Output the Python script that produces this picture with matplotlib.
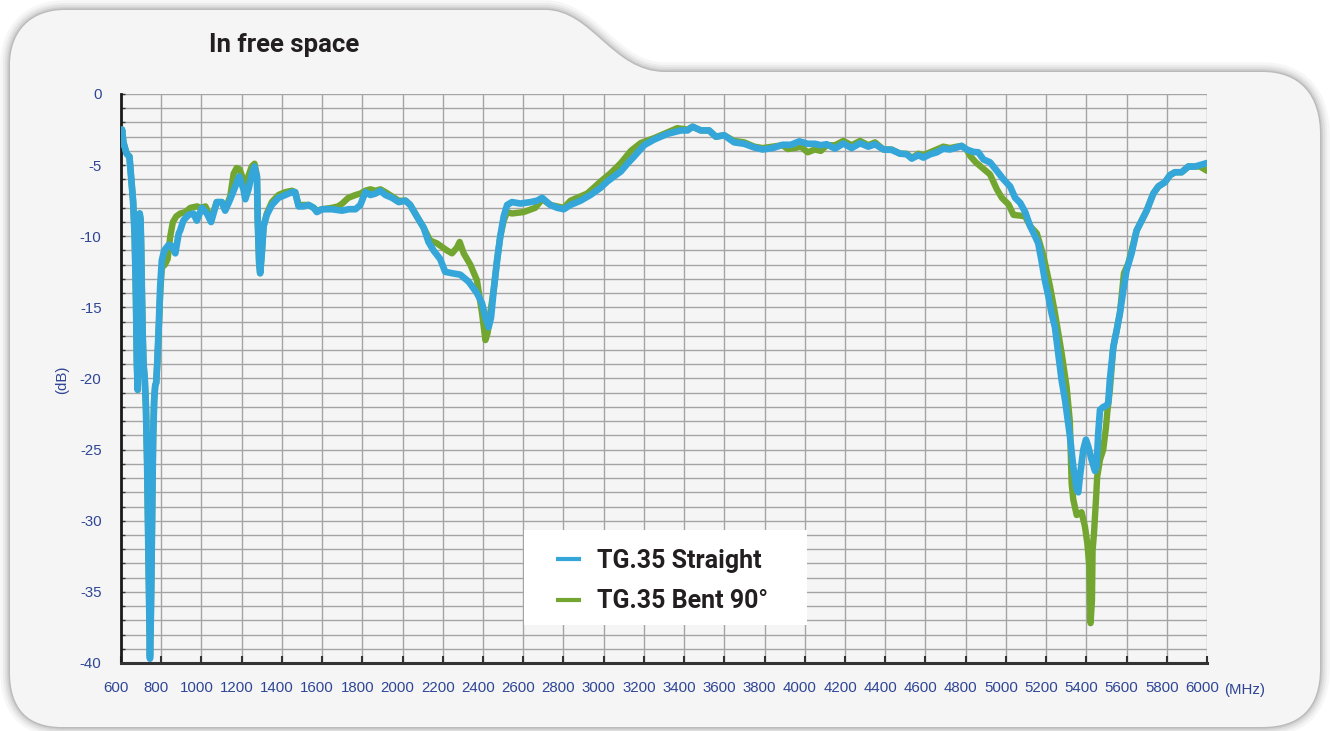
import matplotlib
matplotlib.use("Agg")
import matplotlib.pyplot as plt
from matplotlib.path import Path
from matplotlib.patches import PathPatch, Rectangle
from matplotlib.transforms import ScaledTranslation

# ---------------- data ----------------
freq_straight = [600, 605, 612, 628, 642, 650, 660, 668, 674, 679, 683, 686, 689, 693, 697, 700, 704, 708, 712, 718,
                 724, 730, 736, 740, 744, 748, 752, 756, 760, 765, 770, 775, 780, 787, 795, 803, 815, 837, 853, 870,
                 887, 894, 910, 935, 960, 977, 1002, 1027, 1048, 1076, 1101, 1118, 1143, 1168, 1188, 1209, 1218, 1234,
                 1251, 1264, 1276, 1280, 1287, 1292, 1300, 1309, 1325, 1350, 1383, 1417, 1450, 1466, 1483, 1508, 1533,
                 1558, 1574, 1600, 1649, 1699, 1732, 1766, 1790, 1815, 1840, 1865, 1890, 1915, 1948, 1981, 2015, 2038,
                 2071, 2105, 2129, 2154, 2187, 2212, 2246, 2287, 2329, 2370, 2395, 2412, 2428, 2440, 2453, 2470, 2486,
                 2503, 2520, 2544, 2586, 2636, 2669, 2694, 2735, 2769, 2802, 2835, 2885, 2934, 2984, 3018, 3051, 3085,
                 3118, 3151, 3201, 3251, 3317, 3384, 3417, 3442, 3483, 3524, 3558, 3599, 3649, 3699, 3749, 3790, 3840,
                 3890, 3931, 3973, 4014, 4050, 4080, 4109, 4150, 4192, 4233, 4275, 4316, 4349, 4391, 4432, 4474, 4507,
                 4532, 4565, 4590, 4623, 4656, 4689, 4722, 4756, 4780, 4805, 4838, 4863, 4888, 4921, 4955, 4988, 5021,
                 5046, 5071, 5096, 5121, 5145, 5161, 5177, 5194, 5211, 5227, 5244, 5260, 5277, 5294, 5318, 5335, 5352,
                 5360, 5368, 5385, 5398, 5410, 5426, 5443, 5451, 5459, 5468, 5484, 5501, 5509, 5517, 5534, 5551, 5567,
                 5587, 5600, 5625, 5650, 5675, 5700, 5733, 5758, 5791, 5816, 5841, 5874, 5907, 5940, 5965, 6000]
db_straight = [-3.4, -2.5, -3.4, -4.2, -4.4, -5.8, -7.5, -10.0, -14.0, -19.0, -20.8, -15.0, -9.5, -8.4, -8.8, -10.5,
               -14.0, -17.0, -19.0, -20.0, -22.0, -26.0, -32.0, -36.0, -39.7, -37.0, -33.0, -28.0, -24.0, -21.5, -20.5,
               -20.3, -19.0, -16.6, -13.5, -11.7, -11.0, -10.6, -10.7, -11.2, -9.8, -9.6, -8.9, -8.5, -8.4, -8.9, -8.0,
               -8.4, -9.0, -7.6, -7.6, -8.2, -7.4, -6.5, -5.8, -6.7, -7.4, -6.7, -5.6, -5.1, -5.8, -8.9, -11.9, -12.6,
               -11.2, -9.3, -8.5, -7.8, -7.3, -7.1, -6.9, -6.9, -7.9, -7.9, -7.8, -8.0, -8.3, -8.1, -8.1, -8.2, -8.1,
               -8.1, -7.8, -6.9, -7.1, -7.0, -6.8, -7.1, -7.3, -7.6, -7.5, -7.8, -8.6, -9.4, -10.4, -11.0, -11.6,
               -12.5, -12.6, -12.7, -13.2, -14.0, -14.7, -15.7, -16.4, -15.7, -13.8, -11.7, -10.0, -8.6, -7.8, -7.6,
               -7.7, -7.6, -7.5, -7.3, -7.8, -8.0, -8.1, -7.8, -7.5, -7.1, -6.6, -6.15, -5.8, -5.45, -4.9, -4.4, -3.6,
               -3.2, -2.8, -2.56, -2.56, -2.3, -2.56, -2.56, -3.0, -2.9, -3.4, -3.5, -3.76, -3.9, -3.8, -3.57, -3.57,
               -3.33, -3.5, -3.5, -3.6, -3.53, -3.84, -3.48, -3.8, -3.46, -3.7, -3.53, -3.9, -3.93, -4.19, -4.24,
               -4.54, -4.3, -4.47, -4.24, -4.1, -3.84, -3.9, -3.76, -3.65, -3.9, -4.07, -4.1, -4.6, -4.8, -5.4, -6.0,
               -6.5, -7.3, -7.65, -8.3, -9.3, -10.0, -10.5, -11.7, -13.1, -14.2, -15.4, -16.4, -18.2, -20.1, -21.5,
               -24.0, -26.2, -27.8, -28.0, -26.9, -25.0, -24.3, -24.8, -25.7, -26.5, -26.2, -23.9, -22.2, -22.0,
               -21.9, -21.7, -20.1, -17.8, -16.6, -15.4, -13.5, -12.4, -11.2, -9.6, -8.9, -8.2, -7.0, -6.5, -6.2,
               -5.7, -5.5, -5.5, -5.1, -5.1, -5.0, -4.85]

freq_bent = [600, 605, 612, 628, 642, 650, 660, 668, 674, 679, 683, 686, 689, 693, 697, 700, 704, 708, 712, 718, 724,
             730, 736, 740, 744, 748, 752, 756, 760, 765, 770, 775, 780, 787, 795, 803, 818, 832, 845, 858, 875, 895,
             920, 945, 978, 995, 1020, 1048, 1076, 1101, 1118, 1143, 1160, 1175, 1190, 1205, 1218, 1235, 1250, 1264,
             1276, 1280, 1287, 1292, 1300, 1309, 1325, 1350, 1383, 1417, 1450, 1466, 1483, 1508, 1533, 1558, 1574,
             1600, 1649, 1680, 1700, 1730, 1766, 1790, 1815, 1840, 1865, 1890, 1915, 1948, 1981, 2015, 2038, 2071,
             2105, 2137, 2171, 2221, 2246, 2270, 2284, 2304, 2337, 2370, 2395, 2412, 2423, 2435, 2453, 2470, 2486,
             2503, 2520, 2544, 2602, 2660, 2694, 2735, 2769, 2802, 2835, 2885, 2918, 2950, 2985, 3035, 3085, 3135,
             3184, 3251, 3317, 3366, 3417, 3442, 3483, 3524, 3558, 3599, 3649, 3699, 3749, 3790, 3840, 3890, 3915,
             3950, 3981, 4014, 4050, 4080, 4109, 4150, 4192, 4233, 4275, 4316, 4349, 4391, 4432, 4474, 4507, 4532,
             4565, 4590, 4623, 4656, 4689, 4722, 4756, 4780, 4805, 4822, 4850, 4872, 4900, 4921, 4955, 4980, 5013,
             5038, 5071, 5096, 5121, 5154, 5187, 5219, 5244, 5277, 5302, 5318, 5327, 5335, 5352, 5376, 5393, 5405,
             5415, 5418, 5421, 5428, 5431, 5438, 5448, 5454, 5468, 5484, 5498, 5504, 5517, 5534, 5551, 5567, 5587,
             5609, 5625, 5650, 5675, 5700, 5733, 5758, 5791, 5816, 5841, 5874, 5907, 5940, 5965, 6000]
db_bent = [-3.4, -2.5, -3.4, -4.2, -4.4, -5.8, -7.5, -10.0, -14.0, -19.0, -20.8, -15.0, -9.5, -8.4, -8.8, -10.5, -14.0,
           -17.0, -19.0, -20.0, -22.0, -26.0, -32.0, -36.0, -39.5, -37.0, -33.0, -28.0, -24.0, -21.5, -20.5, -20.3,
           -19.0, -16.8, -14.0, -12.2, -12.0, -11.6, -10.0, -9.0, -8.6, -8.4, -8.3, -8.0, -7.9, -8.0, -7.9, -8.8,
           -7.6, -7.6, -8.1, -7.2, -5.6, -5.2, -5.3, -5.9, -6.8, -5.7, -5.1, -4.9, -5.8, -8.9, -11.9, -12.6, -11.2,
           -9.3, -8.4, -7.6, -7.1, -6.9, -6.8, -6.9, -7.8, -7.8, -7.8, -8.0, -8.2, -8.1, -8.0, -7.9, -7.7, -7.3,
           -7.1, -7.0, -6.8, -6.7, -6.8, -6.7, -6.9, -7.2, -7.5, -7.5, -7.8, -8.6, -9.4, -10.3, -10.5, -11.0, -11.2,
           -10.8, -10.4, -11.2, -12.0, -13.1, -15.4, -17.3, -16.8, -15.5, -13.8, -11.7, -10.0, -8.9, -8.3, -8.4,
           -8.3, -8.0, -7.4, -7.8, -7.9, -8.0, -7.5, -7.2, -7.0, -6.6, -6.15, -5.56, -4.86, -4.0, -3.45, -3.1, -2.7,
           -2.4, -2.5, -2.3, -2.56, -2.56, -3.0, -2.9, -3.3, -3.4, -3.7, -3.8, -3.7, -3.6, -3.87, -3.8, -3.7, -4.1,
           -3.9, -4.0, -3.6, -3.6, -3.3, -3.6, -3.3, -3.6, -3.4, -3.9, -3.9, -4.2, -4.2, -4.5, -4.2, -4.3, -4.1,
           -3.9, -3.7, -3.8, -3.7, -3.65, -3.9, -4.35, -4.8, -5.06, -5.4, -5.65, -6.7, -7.3, -7.76, -8.5, -8.55,
           -8.6, -9.3, -9.8, -11.4, -13.5, -15.4, -18.2, -20.6, -23.0, -27.4, -28.5, -29.6, -29.4, -30.4, -31.6,
           -33.2, -35.6, -37.2, -35.6, -32.1, -30.9, -28.5, -26.9, -25.7, -25.0, -23.4, -22.4, -20.8, -17.8, -16.6,
           -15.4, -12.6, -11.9, -11.0, -9.6, -8.9, -8.2, -7.0, -6.5, -6.2, -5.7, -5.5, -5.5, -5.1, -5.1, -5.1, -5.4]

x_ticks = list(range(600, 6001, 200))
y_ticks = list(range(-40, 1, 5))
series_labels = ["TG.35 Straight", "TG.35 Bent 90\u00b0"]

# ---------------- style ----------------
W, H = 1330, 731
BLUE = "#35a6da"
GREEN = "#73a630"
LABEL_BLUE = "#2f4596"
DARK = "#231f20"
PANEL = "#f4f5f4"

fig = plt.figure(figsize=(W / 100, H / 100), dpi=100)
fig.patch.set_facecolor("white")


def px(x, y):
    return (x / W, 1 - y / H)


verts = [px(10, 65), px(10, 32), px(30, 10), px(65, 10),
         px(545, 10),
         px(592, 10), px(612, 72), px(665, 72),
         px(1262, 72),
         px(1300, 72), px(1320, 95), px(1320, 135),
         px(1320, 668),
         px(1320, 708), px(1300, 727), px(1262, 727),
         px(62, 727),
         px(27, 727), px(10, 708), px(10, 672),
         px(10, 65)]
codes = [Path.MOVETO, Path.CURVE4, Path.CURVE4, Path.CURVE4,
         Path.LINETO,
         Path.CURVE4, Path.CURVE4, Path.CURVE4,
         Path.LINETO,
         Path.CURVE4, Path.CURVE4, Path.CURVE4,
         Path.LINETO,
         Path.CURVE4, Path.CURVE4, Path.CURVE4,
         Path.LINETO,
         Path.CURVE4, Path.CURVE4, Path.CURVE4,
         Path.CLOSEPOLY]
panel_path = Path(verts, codes)

for lw, a in [(14, 0.06), (10, 0.08), (7, 0.10), (4, 0.14), (2, 0.2)]:
    fig.patches.append(PathPatch(panel_path, transform=fig.transFigure, facecolor="none",
                                 edgecolor="#6f6f6f", lw=lw, alpha=a, zorder=-10))
fig.patches.append(PathPatch(panel_path, transform=fig.transFigure, facecolor=PANEL,
                             edgecolor="none", zorder=-9))

left, right, top, bottom = 121, 1207, 94, 663
ax = fig.add_axes([left / W, 1 - bottom / H, (right - left) / W, (bottom - top) / H])
ax.set_facecolor("none")

lg, = ax.plot(freq_bent, db_bent, color=GREEN, lw=4.6, solid_joinstyle="round",
              solid_capstyle="round", label=series_labels[1], zorder=3)
lb, = ax.plot(freq_straight, db_straight, color=BLUE, lw=4.8, solid_joinstyle="round",
              solid_capstyle="round", label=series_labels[0], zorder=4)

ax.set_xlim(600, 6000)
ax.set_ylim(-40, 0)
ax.set_xticks(x_ticks)
ax.set_xticklabels([str(t) for t in x_ticks])
ax.set_yticks(y_ticks)
ax.set_yticklabels([str(t) for t in y_ticks])
ax.set_yticks(list(range(-40, 1, 1)), minor=True)
ax.grid(which="both", axis="both", color="#a4a4a4", lw=1.0)

for s in ["top", "right"]:
    ax.spines[s].set_visible(False)
ax.spines["left"].set_color("#1a1a1a")
ax.spines["left"].set_linewidth(2.0)
ax.spines["bottom"].set_color("#333333")
ax.spines["bottom"].set_linewidth(2.2)

tick_font = "Liberation Sans"
TFS = 10.8
ax.tick_params(axis="x", which="major", direction="in", length=5, width=1.5, color="#333333",
               labelsize=TFS, labelcolor=LABEL_BLUE, pad=13)
ax.tick_params(axis="y", which="both", direction="in", length=3, width=1.0, color="#333333",
               labelsize=TFS, labelcolor=LABEL_BLUE, pad=14)
shift = ScaledTranslation(-5 / 100, 0, fig.dpi_scale_trans)
for lab in ax.get_xticklabels():
    lab.set_fontfamily(tick_font)
    lab.set_transform(lab.get_transform() + shift)
for lab in ax.get_yticklabels():
    lab.set_fontfamily(tick_font)

fig.text(1224 / W, 1 - 690 / H, "(MHz)", color=LABEL_BLUE, fontsize=TFS, family=tick_font,
         ha="left", va="center")
fig.text(62 / W, 1 - 380 / H, "(dB)", color=LABEL_BLUE, fontsize=TFS, family=tick_font,
         ha="center", va="center", rotation=90)

fig.text(209 / W, 1 - 45 / H, "In free space", color=DARK, fontsize=18.5, fontweight="bold",
         family="Roboto", ha="left", va="center")

# legend: white box + frameless legend
box = Rectangle(px(524, 625), 283 / W, 95 / H, transform=fig.transFigure,
                facecolor="white", edgecolor="none", zorder=9)
ax.add_artist(box)
box.set_clip_on(False)

leg = ax.legend(handles=[lb, lg], labels=series_labels, loc="upper left",
                bbox_to_anchor=px(556, 549), bbox_transform=fig.transFigure,
                frameon=False, borderpad=0, borderaxespad=0, handlelength=1.0, handletextpad=0.65,
                labelspacing=0.66, prop={"family": "Roboto", "weight": "bold", "size": 18})
for t in leg.get_texts():
    t.set_color(DARK)
for ln in leg.get_lines():
    ln.set_linewidth(3.0)
    ln.set_solid_capstyle("butt")
leg.set_zorder(10)

fig.savefig("out.png", dpi=100, facecolor="white")
